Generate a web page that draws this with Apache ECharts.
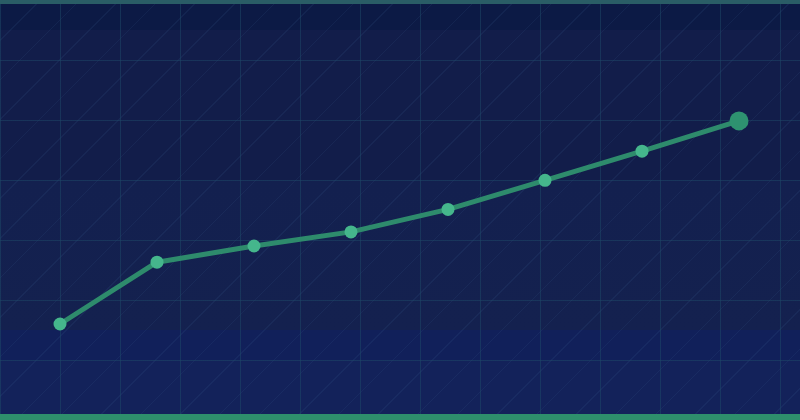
<!DOCTYPE html>
<html>
<head>
<meta charset="utf-8">
<script src="https://cdn.jsdelivr.net/npm/echarts@6/dist/echarts.min.js"></script>
<style>
html,body{margin:0;padding:0;width:800px;height:420px;overflow:hidden;}
#wrap{position:relative;width:800px;height:420px;
  background-color:#121d4a;
  background-image:
    linear-gradient(to right, rgba(30,75,105,0.5) 1px, transparent 1px),
    linear-gradient(to bottom, rgba(30,75,105,0.5) 1px, transparent 1px),
    repeating-linear-gradient(135deg, rgba(60,100,150,0.13) 0px, rgba(60,100,150,0.13) 1px, transparent 1px, transparent 28px),
    linear-gradient(to bottom, #0c1a45 0px, #0c1a45 30px, #121d4a 30px, #121d4a 180px, #13204f 180px, #14214f 330px, #11205a 330px, #11205a 360px, #13225a 360px, #13225a 420px);
  background-size:60px 60px, 60px 60px, auto, auto;
}
#topbar{position:absolute;left:0;top:0;width:800px;height:4px;background:#2a5d66;}
#botbar{position:absolute;left:0;bottom:0;width:800px;height:6px;background:#2e8f6c;}
#chart{position:absolute;left:0;top:0;width:800px;height:420px;}
</style>
</head>
<body>
<div id="wrap">
  <div id="chart"></div>
  <div id="topbar"></div>
  <div id="botbar"></div>
</div>
<script>
const categories = ['1','2','3','4','5','6','7','8'];
const values = [12, 32.6, 38, 42.7, 50.2, 59.9, 69.6, 79.7];

const chart = echarts.init(document.getElementById('chart'), null, {renderer:'canvas'});
const data = values.map((v, i) => i === values.length - 1
  ? {value: v, symbolSize: 19, itemStyle: {color: '#2e9270'}}
  : v);
chart.setOption({
  backgroundColor: 'transparent',
  animation: false,
  grid: {left: 60, right: 61, top: 60, bottom: 60},
  xAxis: {
    type: 'category', data: categories, boundaryGap: false,
    show: false
  },
  yAxis: {type: 'value', min: 0, max: 100, show: false},
  series: [{
    type: 'line',
    data: data,
    symbol: 'circle',
    symbolSize: 13,
    lineStyle: {color: '#2e8b6c', width: 5},
    itemStyle: {color: '#45b68c'},
    z: 3
  }]
});
</script>
</body>
</html>
